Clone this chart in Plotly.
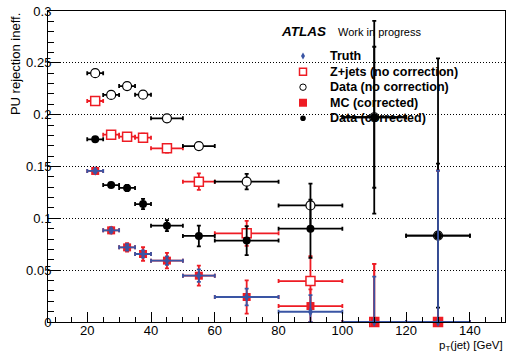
import numpy as np
import plotly.graph_objects as go

pt = [22.5, 27.5, 32.5, 37.5, 45, 55, 70, 90, 110, 130]
pt_err = [2.5, 2.5, 2.5, 2.5, 5, 5, 10, 10, 10, 10]

truth = [0.1457, 0.0884, 0.0720, 0.0656, 0.0592, 0.0447, 0.0241, 0.0099, 0.0, 0.0]
truth_err = [0.0015, 0.002, 0.003, 0.0035, 0.004, 0.006, 0.008, 0.016, 0.0437, 0.146]

zjets = [0.2132, 0.1807, 0.1788, 0.1778, 0.1675, 0.1354, 0.0855, 0.0395, 0.0, 0.0]
zjets_err = [0.002, 0.003, 0.003, 0.004, 0.004, 0.008, 0.012, 0.024, 0.056, 0.146]

data_nc = [0.2400, 0.2190, 0.2276, 0.2193, 0.1965, 0.1697, 0.1354, 0.1125, 0.1975, 0.0833]
data_nc_err = [0.002, 0.002, 0.002, 0.002, 0.003, 0.003, 0.0075, 0.021, 0.068, 0.171]

mc = [0.1457, 0.0884, 0.0720, 0.0656, 0.0592, 0.0447, 0.0241, 0.0154, 0.0, 0.0]
mc_err = [0.002, 0.003, 0.004, 0.0065, 0.0075, 0.0097, 0.016, 0.016, 0.056, 0.146]

data_c = [0.1762, 0.1321, 0.1293, 0.1138, 0.0929, 0.0830, 0.0785, 0.0900, 0.1975, 0.0833]
data_c_err = [0.002, 0.002, 0.003, 0.005, 0.0053, 0.010, 0.014, 0.028, 0.093, 0.0695]

legend_labels = ["Truth", "Z+jets (no correction)", "Data (no correction)",
                 "MC (corrected)", "Data (corrected)"]

RED = "#EE1C24"
BLUE = "#3A55A4"
BLACK = "#000000"


def trace(name, y, yerr, color, marker):
    y = np.array(y)
    yerr = np.array(yerr)
    return go.Scatter(
        x=pt, y=y, mode="markers", name=name, showlegend=False,
        marker=marker, cliponaxis=False,
        error_x=dict(type="data", array=pt_err, color=color, thickness=1.8, width=2),
        error_y=dict(type="data", array=yerr, arrayminus=np.minimum(yerr, y),
                     symmetric=False, color=color, thickness=1.8, width=2),
    )


fig = go.Figure()
fig.add_trace(trace(legend_labels[1], zjets, zjets_err, RED,
                    dict(symbol="square", size=9, color="white", line=dict(color=RED, width=1.5))))
fig.add_trace(trace(legend_labels[2], data_nc, data_nc_err, BLACK,
                    dict(symbol="circle", size=9, color="white", line=dict(color=BLACK, width=1.2))))
fig.add_trace(trace(legend_labels[3], mc, mc_err, RED,
                    dict(symbol="square", size=8, color=RED, line=dict(width=0))))
fig.add_trace(trace(legend_labels[4], data_c, data_c_err, BLACK,
                    dict(symbol="circle", size=8, color=BLACK, line=dict(width=0))))
fig.add_trace(trace(legend_labels[0], truth, truth_err, BLUE,
                    dict(symbol="diamond-tall", size=7, color=BLUE, line=dict(width=0))))

# ---- legend (ROOT-style compact rows), built as layout decorations ----
leg_x, leg_text_x, leg_y0, leg_dy = 0.558, 0.613, 0.855, 0.05
glyphs = [
    dict(type="path", path="M0,3.5 L2,0 L0,-3.5 L-2,0 Z", fillcolor=BLUE, line=dict(width=0)),
    dict(type="rect", x0=-3.5, x1=3.5, y0=-3.5, y1=3.5, fillcolor="white", line=dict(color=RED, width=1.5)),
    dict(type="circle", x0=-3.2, x1=3.2, y0=-3.2, y1=3.2, fillcolor="white", line=dict(color=BLACK, width=1)),
    dict(type="rect", x0=-4, x1=4, y0=-4, y1=4, fillcolor=RED, line=dict(width=0)),
    dict(type="circle", x0=-2.8, x1=2.8, y0=-2.8, y1=2.8, fillcolor=BLACK, line=dict(width=0)),
]
shapes = []
annotations = []
for i, (lab, g) in enumerate(zip(legend_labels, glyphs)):
    yy = leg_y0 - leg_dy * i
    s = dict(g)
    s.update(xref="paper", yref="paper", xsizemode="pixel", ysizemode="pixel",
             xanchor=leg_x, yanchor=yy, layer="above")
    shapes.append(s)
    annotations.append(dict(text=lab, xref="paper", yref="paper", x=leg_text_x, y=yy,
                            xanchor="left", yanchor="middle", showarrow=False,
                            font=dict(size=12.5, weight="bold")))

annotations += [
    dict(text="<b><i>ATLAS</i></b>", xref="paper", yref="paper", x=0.505, y=0.935,
         xanchor="left", yanchor="middle", showarrow=False, font=dict(size=13.5)),
    dict(text="Work in progress", xref="paper", yref="paper", x=0.630, y=0.932,
         xanchor="left", yanchor="middle", showarrow=False, font=dict(size=11)),
    dict(text="PU rejection ineff.", xref="paper", yref="paper", x=-0.072, y=1.0,
         xanchor="center", yanchor="top", textangle=-90, showarrow=False, font=dict(size=13)),
    dict(text="p<sub>T</sub>(jet) [GeV]", xref="paper", yref="paper", x=1.0, y=-0.105,
         xanchor="right", yanchor="bottom", showarrow=False, font=dict(size=11.5)),
]

fig.update_layout(
    width=509, height=353,
    margin=dict(l=48, r=4, t=11, b=31),
    plot_bgcolor="white", paper_bgcolor="white",
    font=dict(family="Liberation Sans, Arial, sans-serif", color="black", size=13),
    showlegend=False,
    xaxis=dict(range=[7.7, 151], showgrid=False, zeroline=False,
               showline=True, mirror=True, linecolor="black", linewidth=1,
               ticks="inside", ticklen=10, tickcolor="black", tick0=20, dtick=20,
               tickfont=dict(size=13), ticklabelstandoff=-4,
               minor=dict(ticks="inside", ticklen=5, dtick=5, tick0=0, tickcolor="black")),
    yaxis=dict(range=[0, 0.3], showgrid=True, gridcolor="black", griddash="1px,2px", gridwidth=1,
               zeroline=False, showline=True, mirror=True, linecolor="black", linewidth=1,
               ticks="inside", ticklen=12, tickcolor="black",
               tickvals=[0, 0.05, 0.1, 0.15, 0.2, 0.25, 0.3],
               ticktext=["0", "0.05", "0.1", "0.15", "0.2", "0.25", "0.3"],
               tickfont=dict(size=13), ticklabelstandoff=-7,
               minor=dict(ticks="inside", ticklen=6, dtick=0.01, tickcolor="black", showgrid=False)),
    shapes=shapes,
    annotations=annotations,
)

fig.write_html("out.html", config={"displayModeBar": False},
               post_script="document.body.style.margin='0px';")
